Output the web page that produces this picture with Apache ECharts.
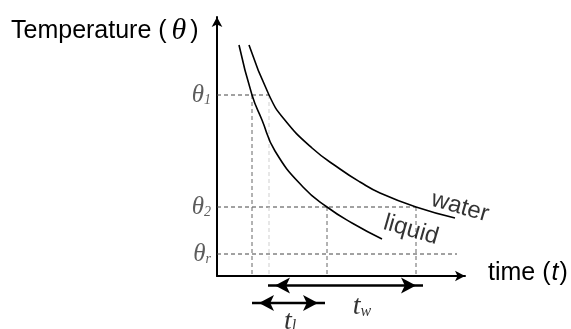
<!DOCTYPE html>
<html>
<head>
<meta charset="utf-8">
<script src="https://cdn.jsdelivr.net/npm/echarts@6/dist/echarts.min.js"></script>
<style>
  html, body { margin: 0; padding: 0; background: #fff; }
  #chart { width: 571px; height: 329px; }
</style>
</head>
<body>
<div id="chart"></div>
<script>
// curve samples (time, temperature), in plot units
const liquidT = [22, 35, 45, 58, 86, 110, 135, 165];
const liquidTheta = [231, 181, 156, 125, 89, 69, 53, 37];
const waterT = [32, 52, 67, 95, 123, 143, 163, 199, 238];
const waterTheta = [231, 181, 157, 128, 107, 94, 83, 69, 58];

// reference levels on the temperature axis (theta1, theta2, theta_r)
const thetaLevels = [181, 69, 22];
const thetaSubs = ['1', '2', 'r'];

// times where the curves cross theta1 / theta2
const liquidTimes = [35, 110];
const waterTimes = [52, 199];
const thetaREnd = 240;

// interval arrows under the time axis
const waterSpan = [51, 206];
const liquidSpan = [35, 108];

const chart = echarts.init(document.getElementById('chart'), null, { renderer: 'canvas' });

const serifItalic = { fontFamily: 'Liberation Serif', fontStyle: 'italic' };

function dashed(points, color) {
  return {
    type: 'line',
    data: points,
    symbol: 'none',
    silent: true,
    z: 1,
    lineStyle: { color: color, width: 1, type: [4, 3] },
  };
}

function curve(ts, thetas) {
  return {
    type: 'line',
    data: ts.map((t, i) => [t, thetas[i]]),
    smooth: 0.5,
    symbol: 'none',
    z: 3,
    lineStyle: { color: '#000', width: 1.6 },
  };
}

function span(range, level) {
  return {
    type: 'line',
    clip: false,
    symbol: 'arrow',
    symbolSize: [12, 15],
    showSymbol: true,
    itemStyle: { color: '#000' },
    lineStyle: { color: '#000', width: 2.5 },
    data: [
      { value: [range[0], level], symbolRotate: 90, symbolOffset: [7, 0] },
      { value: [range[1], level], symbolRotate: -90, symbolOffset: [-7, 0] },
    ],
  };
}

const axisCommon = {
  type: 'value',
  min: 0,
  axisLine: {
    show: true,
    onZero: false,
    symbol: ['none', 'arrow'],
    symbolSize: [8, 10],
    lineStyle: { color: '#000', width: 2 },
  },
  axisTick: { show: false },
  axisLabel: { show: false },
  splitLine: { show: false },
};

const th1 = thetaLevels[0], th2 = thetaLevels[1], thr = thetaLevels[2];

chart.setOption({
  animation: false,
  backgroundColor: '#fff',
  grid: { left: 217, right: 106, top: 17, bottom: 53 },
  xAxis: Object.assign({}, axisCommon, { max: 248 }),
  yAxis: Object.assign({}, axisCommon, { max: 259 }),
  graphic: [
    {
      type: 'text', left: 11, top: 16,
      style: {
        text: '{a|Temperature (}{b|θ}{a|)}',
        rich: {
          a: { fontFamily: 'Liberation Sans', fontSize: 25, fill: '#000' },
          b: Object.assign({ fontSize: 30, fill: '#000', padding: [0, 4, 0, 5] }, serifItalic),
        },
      },
    },
    {
      type: 'text', left: 488, top: 261,
      style: {
        text: '{a|time (}{b|t}{a|)}',
        rich: {
          a: { fontFamily: 'Liberation Sans', fontSize: 25, fill: '#000' },
          b: { fontFamily: 'Liberation Sans', fontStyle: 'italic', fontSize: 25, fill: '#000', padding: [0, 1, 0, 1] },
        },
      },
    },
  ],
  series: [
    dashed([[0, th1], [waterTimes[0], th1]], '#444'),
    dashed([[0, th2], [waterTimes[1], th2]], '#444'),
    dashed([[0, thr], [thetaREnd, thr]], '#444'),
    dashed([[liquidTimes[0], th1], [liquidTimes[0], 0]], '#666'),
    dashed([[waterTimes[0], th1], [waterTimes[0], 0]], '#cfcfcf'),
    dashed([[liquidTimes[1], th2], [liquidTimes[1], 0]], '#666'),
    dashed([[waterTimes[1], th2], [waterTimes[1], 0]], '#666'),
    curve(liquidT, liquidTheta),
    curve(waterT, waterTheta),
    span(waterSpan, -9.5),
    span(liquidSpan, -27),
    {
      // theta labels beside the temperature axis
      type: 'scatter',
      clip: false,
      symbolSize: 0,
      data: thetaLevels.map((v, i) => ({ value: [0, v], sub: thetaSubs[i] })),
      label: {
        show: true,
        position: 'left',
        distance: 6,
        formatter: p => '{th|θ}{sub|' + p.data.sub + '}',
        rich: {
          th: Object.assign({ fontSize: 25, color: '#333' }, serifItalic),
          sub: Object.assign({ fontSize: 14, color: '#333', padding: [11, 0, 0, 0] }, serifItalic),
        },
      },
    },
    {
      // interval names
      type: 'scatter',
      clip: false,
      symbolSize: 0,
      data: [
        { value: [145, -31], name: '{t|t}{s|w}' },
        { value: [73, -46], name: '{t|t}{s|l}' },
      ],
      label: {
        show: true,
        position: 'inside',
        formatter: p => p.name,
        rich: {
          t: Object.assign({ fontSize: 28, color: '#000' }, serifItalic),
          s: Object.assign({ fontSize: 16, color: '#000', padding: [10, 0, 0, 0] }, serifItalic),
        },
      },
    },
    {
      // curve names
      type: 'scatter',
      clip: false,
      symbolSize: 0,
      data: [
        { value: [243, 69], name: 'water' },
        { value: [194, 46], name: 'liquid' },
      ],
      label: {
        show: true,
        position: 'inside',
        rotate: -16,
        formatter: p => p.name,
        fontFamily: 'Liberation Sans',
        fontSize: 24,
        color: '#000',
      },
    },
  ],
});
</script>
</body>
</html>
